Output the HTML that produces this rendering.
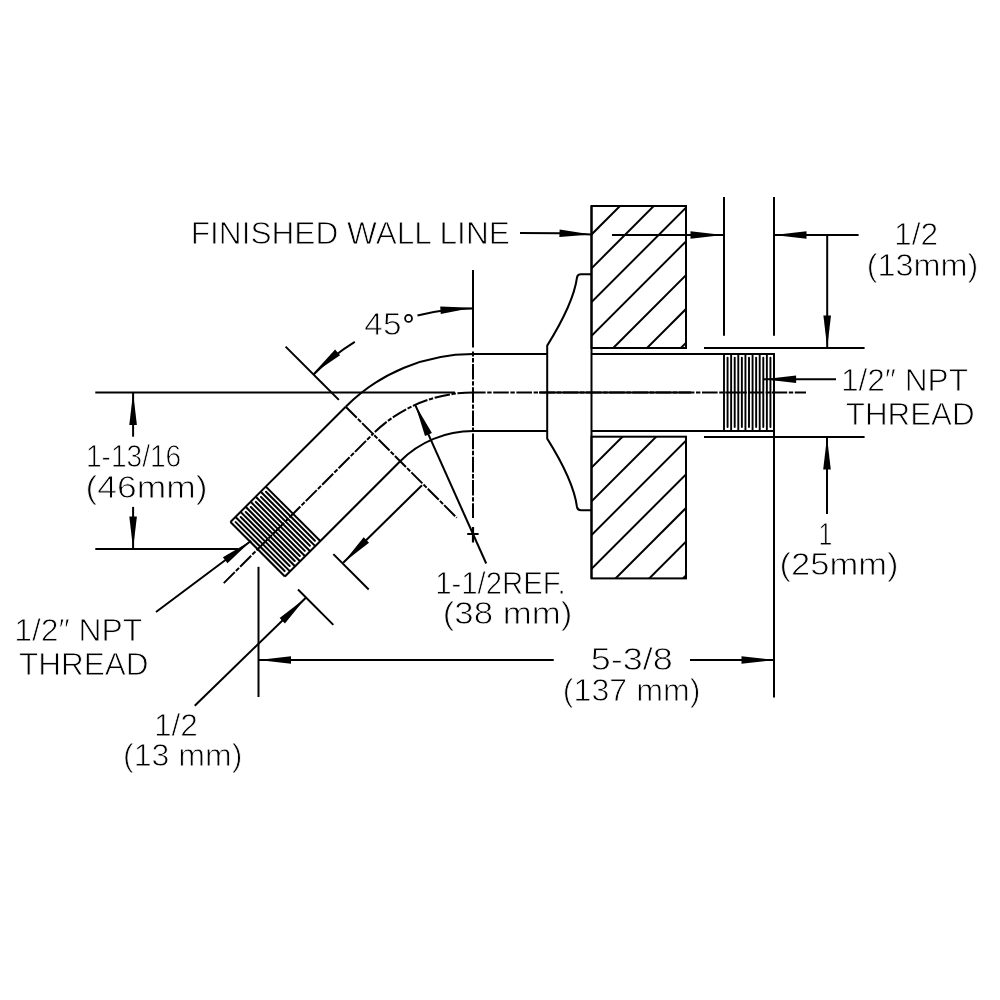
<!DOCTYPE html>
<html><head><meta charset="utf-8"><style>
html,body{margin:0;padding:0;background:#fff;overflow:hidden;}
svg{display:block;}
#wrap{width:1000px;height:1000px;will-change:transform;}
text{font-family:"Liberation Sans",sans-serif;fill:#000;stroke:#fff;stroke-width:0.8px;}
</style></head><body><div id="wrap">
<svg width="1000" height="1000" viewBox="0 0 1000 1000" stroke="#000" stroke-linecap="butt">
<defs><clipPath id="cu"><rect x="591.5" y="206.0" width="94.5" height="142.0"/></clipPath><clipPath id="cl"><rect x="591.5" y="436.7" width="94.5" height="141.7"/></clipPath></defs>
<rect x="591.5" y="206.0" width="94.5" height="142.0" fill="none" stroke-width="2.0"/>
<rect x="591.5" y="436.7" width="94.5" height="141.7" fill="none" stroke-width="2.0"/>
<line x1="591.50" y1="206.00" x2="591.50" y2="578.40" stroke-width="2.0" />
<g clip-path="url(#cu)">
<line x1="426.00" y1="400.00" x2="676.00" y2="150.00" stroke-width="2.0" />
<line x1="459.80" y1="400.00" x2="709.80" y2="150.00" stroke-width="2.0" />
<line x1="493.60" y1="400.00" x2="743.60" y2="150.00" stroke-width="2.0" />
<line x1="527.40" y1="400.00" x2="777.40" y2="150.00" stroke-width="2.0" />
<line x1="561.20" y1="400.00" x2="811.20" y2="150.00" stroke-width="2.0" />
<line x1="595.00" y1="400.00" x2="845.00" y2="150.00" stroke-width="2.0" />
<line x1="628.80" y1="400.00" x2="878.80" y2="150.00" stroke-width="2.0" />
</g><g clip-path="url(#cl)">
<line x1="409.20" y1="650.00" x2="679.20" y2="380.00" stroke-width="2.0" />
<line x1="442.90" y1="650.00" x2="712.90" y2="380.00" stroke-width="2.0" />
<line x1="476.60" y1="650.00" x2="746.60" y2="380.00" stroke-width="2.0" />
<line x1="510.30" y1="650.00" x2="780.30" y2="380.00" stroke-width="2.0" />
<line x1="544.00" y1="650.00" x2="814.00" y2="380.00" stroke-width="2.0" />
<line x1="577.70" y1="650.00" x2="847.70" y2="380.00" stroke-width="2.0" />
<line x1="611.40" y1="650.00" x2="881.40" y2="380.00" stroke-width="2.0" />
</g>
<path d="M591.5,274.2 L581,274.2 Q577.5,274.2 577,277.5 C574,300 560,325 547.2,345.6 L547.2,438.6 C560,459 574,484 577,507 Q577.5,510.2 581,510.2 L591.5,510.2" stroke-width="2.0" fill="none" />
<line x1="473.00" y1="354.00" x2="547.20" y2="354.00" stroke-width="2.0" />
<line x1="473.00" y1="431.00" x2="547.20" y2="431.00" stroke-width="2.0" />
<line x1="591.50" y1="354.00" x2="775.00" y2="354.00" stroke-width="2.0" />
<line x1="591.50" y1="431.00" x2="775.00" y2="431.00" stroke-width="2.0" />
<line x1="774.00" y1="353.00" x2="774.00" y2="431.00" stroke-width="2.0" />
<line x1="724.00" y1="354.00" x2="724.00" y2="431.00" stroke-width="1.9" />
<line x1="731.14" y1="354.00" x2="731.14" y2="431.00" stroke-width="1.9" />
<line x1="738.29" y1="354.00" x2="738.29" y2="431.00" stroke-width="1.9" />
<line x1="745.43" y1="354.00" x2="745.43" y2="431.00" stroke-width="1.9" />
<line x1="752.57" y1="354.00" x2="752.57" y2="431.00" stroke-width="1.9" />
<line x1="759.71" y1="354.00" x2="759.71" y2="431.00" stroke-width="1.9" />
<line x1="766.86" y1="354.00" x2="766.86" y2="431.00" stroke-width="1.9" />
<line x1="774.00" y1="354.00" x2="774.00" y2="431.00" stroke-width="1.9" />
<line x1="727.57" y1="357.80" x2="727.57" y2="427.00" stroke-width="1.9" stroke-linecap="round"/>
<line x1="734.71" y1="357.80" x2="734.71" y2="427.00" stroke-width="1.9" stroke-linecap="round"/>
<line x1="741.86" y1="357.80" x2="741.86" y2="427.00" stroke-width="1.9" stroke-linecap="round"/>
<line x1="749.00" y1="357.80" x2="749.00" y2="427.00" stroke-width="1.9" stroke-linecap="round"/>
<line x1="756.14" y1="357.80" x2="756.14" y2="427.00" stroke-width="1.9" stroke-linecap="round"/>
<line x1="763.29" y1="357.80" x2="763.29" y2="427.00" stroke-width="1.9" stroke-linecap="round"/>
<line x1="770.43" y1="357.80" x2="770.43" y2="427.00" stroke-width="1.9" stroke-linecap="round"/>
<line x1="473.00" y1="392.50" x2="806.00" y2="392.50" stroke-width="2.0" stroke-dasharray="15.6 1.6 4.4 1.6" stroke-dashoffset="3"/>
<line x1="539.00" y1="392.50" x2="691.00" y2="392.50" stroke-width="2.0" />
<path d="M473,354.0 A180.0,180.0 0 0 0 345.72,406.72" stroke-width="2.0" fill="none" />
<path d="M473,431.0 A103.0,103.0 0 0 0 400.17,461.17" stroke-width="2.0" fill="none" />
<path d="M473,392.5 A141.5,141.5 0 0 0 372.94,433.94" stroke-width="2.0" fill="none" stroke-dasharray="15.6 1.6 4.4 1.6"/>
<line x1="473.00" y1="270.00" x2="473.00" y2="347.60" stroke-width="2.0" />
<line x1="473.00" y1="351.50" x2="473.00" y2="518.00" stroke-width="2.0" stroke-dasharray="15.6 1.6 4.4 1.6" stroke-dashoffset="10.7"/>
<line x1="467.20" y1="534.00" x2="478.60" y2="534.00" stroke-width="2.0" />
<line x1="473.00" y1="527.00" x2="473.00" y2="542.50" stroke-width="2.2" />
<g transform="rotate(-45 473.0 534.0)">
<line x1="310.00" y1="354.00" x2="473.00" y2="354.00" stroke-width="2.0" />
<line x1="310.00" y1="431.00" x2="473.00" y2="431.00" stroke-width="2.0" />
<line x1="310.00" y1="354.00" x2="310.00" y2="431.00" stroke-width="2.05" />
<line x1="317.14" y1="354.00" x2="317.14" y2="431.00" stroke-width="2.05" />
<line x1="324.29" y1="354.00" x2="324.29" y2="431.00" stroke-width="2.05" />
<line x1="331.43" y1="354.00" x2="331.43" y2="431.00" stroke-width="2.05" />
<line x1="338.57" y1="354.00" x2="338.57" y2="431.00" stroke-width="2.05" />
<line x1="345.71" y1="354.00" x2="345.71" y2="431.00" stroke-width="2.05" />
<line x1="352.86" y1="354.00" x2="352.86" y2="431.00" stroke-width="2.05" />
<line x1="360.00" y1="354.00" x2="360.00" y2="431.00" stroke-width="2.05" />
<line x1="313.57" y1="357.80" x2="313.57" y2="427.00" stroke-width="2.05" stroke-linecap="round"/>
<line x1="320.71" y1="357.80" x2="320.71" y2="427.00" stroke-width="2.05" stroke-linecap="round"/>
<line x1="327.86" y1="357.80" x2="327.86" y2="427.00" stroke-width="2.05" stroke-linecap="round"/>
<line x1="335.00" y1="357.80" x2="335.00" y2="427.00" stroke-width="2.05" stroke-linecap="round"/>
<line x1="342.14" y1="357.80" x2="342.14" y2="427.00" stroke-width="2.05" stroke-linecap="round"/>
<line x1="349.29" y1="357.80" x2="349.29" y2="427.00" stroke-width="2.05" stroke-linecap="round"/>
<line x1="356.43" y1="357.80" x2="356.43" y2="427.00" stroke-width="2.05" stroke-linecap="round"/>
<line x1="262.00" y1="392.50" x2="473.00" y2="392.50" stroke-width="2.0" stroke-dasharray="15.6 1.6 4.4 1.6"/>
<line x1="473.00" y1="354.00" x2="473.00" y2="511.00" stroke-width="2.0" stroke-dasharray="15.6 1.6 4.4 1.6"/>
<line x1="473.00" y1="269.00" x2="473.00" y2="344.30" stroke-width="2.0" />
<line x1="310.00" y1="449.50" x2="310.00" y2="499.50" stroke-width="2.0" />
<line x1="360.00" y1="449.50" x2="360.00" y2="499.50" stroke-width="2.0" />
</g>
<path d="M520,233 L560,233.3 L591.5,234.4" stroke-width="2.0" fill="none" />
<polygon points="591.50,234.40 559.36,237.00 559.64,229.40" fill="#000" stroke="none"/>
<line x1="612.00" y1="235.00" x2="723.00" y2="235.00" stroke-width="2.0" />
<polygon points="723.00,235.00 690.50,238.80 690.50,231.20" fill="#000" stroke="none"/>
<line x1="724.00" y1="197.00" x2="724.00" y2="335.70" stroke-width="2.0" />
<line x1="774.00" y1="197.00" x2="774.00" y2="335.70" stroke-width="2.0" />
<line x1="774.00" y1="235.00" x2="858.60" y2="235.00" stroke-width="2.0" />
<polygon points="774.00,235.00 806.50,231.20 806.50,238.80" fill="#000" stroke="none"/>
<line x1="827.20" y1="235.00" x2="827.20" y2="348.00" stroke-width="2.0" />
<polygon points="827.20,348.00 823.40,315.50 831.00,315.50" fill="#000" stroke="none"/>
<line x1="704.00" y1="348.00" x2="864.60" y2="348.00" stroke-width="2.0" />
<line x1="704.00" y1="437.00" x2="864.60" y2="437.00" stroke-width="2.0" />
<line x1="763.60" y1="379.30" x2="836.00" y2="379.30" stroke-width="2.0" />
<polygon points="763.60,379.30 796.10,375.50 796.10,383.10" fill="#000" stroke="none"/>
<line x1="827.00" y1="437.00" x2="827.00" y2="514.00" stroke-width="2.0" />
<polygon points="827.00,437.00 830.80,469.50 823.20,469.50" fill="#000" stroke="none"/>
<line x1="774.00" y1="431.00" x2="774.00" y2="697.50" stroke-width="2.0" />
<line x1="258.50" y1="566.80" x2="258.50" y2="697.00" stroke-width="2.0" />
<line x1="258.50" y1="660.00" x2="553.75" y2="660.00" stroke-width="2.0" />
<polygon points="258.50,660.00 291.00,656.20 291.00,663.80" fill="#000" stroke="none"/>
<line x1="690.00" y1="660.00" x2="774.00" y2="660.00" stroke-width="2.0" />
<polygon points="774.00,660.00 741.50,663.80 741.50,656.20" fill="#000" stroke="none"/>
<line x1="95.30" y1="392.60" x2="455.00" y2="392.60" stroke-width="2.0" />
<line x1="95.30" y1="549.00" x2="238.00" y2="549.00" stroke-width="2.0" />
<line x1="133.10" y1="392.60" x2="133.10" y2="436.70" stroke-width="2.0" />
<polygon points="133.10,392.60 136.90,425.10 129.30,425.10" fill="#000" stroke="none"/>
<line x1="133.10" y1="506.90" x2="133.10" y2="549.00" stroke-width="2.0" />
<polygon points="133.10,549.00 129.30,516.50 136.90,516.50" fill="#000" stroke="none"/>
<path d="M473.00,308.50 A225.5,225.5 0 0 0 417.49,315.44" stroke-width="2.0" fill="none" />
<path d="M354.79,341.96 A225.5,225.5 0 0 0 313.55,374.55" stroke-width="2.0" fill="none" />
<polygon points="472.60,307.80 440.78,313.99 440.22,306.41" fill="#000" stroke="none"/>
<polygon points="313.20,373.60 335.11,349.53 340.09,355.27" fill="#000" stroke="none"/>
<line x1="415.20" y1="404.80" x2="486.20" y2="563.50" stroke-width="2.0" />
<polygon points="415.20,404.80 431.94,432.91 425.00,436.02" fill="#000" stroke="none"/>
<line x1="156.00" y1="612.00" x2="251.20" y2="540.80" stroke-width="2.0" />
<polygon points="251.20,540.80 227.45,563.31 222.90,557.22" fill="#000" stroke="none"/>
<line x1="343.20" y1="562.80" x2="422.00" y2="485.20" stroke-width="2.0" />
<polygon points="343.20,562.80 363.69,537.29 369.02,542.70" fill="#000" stroke="none"/>
<line x1="305.60" y1="598.00" x2="194.75" y2="705.75" stroke-width="2.0" />
<polygon points="305.60,598.00 284.94,623.38 279.65,617.93" fill="#000" stroke="none"/>
<text x="190.74" y="243.52" font-size="31.0" textLength="319.08" lengthAdjust="spacingAndGlyphs">FINISHED WALL LINE</text>
<text x="893.99" y="245.42" font-size="31.0" textLength="44.12" lengthAdjust="spacingAndGlyphs">1/2</text>
<text x="866.75" y="276.22" font-size="31.0" textLength="111.64" lengthAdjust="spacingAndGlyphs">(13mm)</text>
<text x="840.95" y="391.42" font-size="31.0" textLength="127.06" lengthAdjust="spacingAndGlyphs">1/2&#8243; NPT</text>
<text x="845.79" y="425.42" font-size="31.0" textLength="128.89" lengthAdjust="spacingAndGlyphs">THREAD</text>
<text x="818.45" y="545.42" font-size="31.0" textLength="13.80" lengthAdjust="spacingAndGlyphs">1</text>
<text x="779.49" y="575.42" font-size="31.0" textLength="118.95" lengthAdjust="spacingAndGlyphs">(25mm)</text>
<text x="364.35" y="335.32" font-size="31.0" textLength="37.11" lengthAdjust="spacingAndGlyphs">45</text>
<text x="85.96" y="467.32" font-size="31.0" textLength="95.25" lengthAdjust="spacingAndGlyphs">1-13/16</text>
<text x="85.53" y="497.52" font-size="31.0" textLength="121.98" lengthAdjust="spacingAndGlyphs">(46mm)</text>
<text x="14.18" y="641.42" font-size="31.0" textLength="128.04" lengthAdjust="spacingAndGlyphs">1/2&#8243; NPT</text>
<text x="18.98" y="675.22" font-size="31.0" textLength="129.60" lengthAdjust="spacingAndGlyphs">THREAD</text>
<text x="435.20" y="594.22" font-size="31.0" textLength="130.47" lengthAdjust="spacingAndGlyphs">1-1/2REF.</text>
<text x="442.77" y="624.42" font-size="31.0" textLength="129.61" lengthAdjust="spacingAndGlyphs">(38 mm)</text>
<text x="590.77" y="670.02" font-size="31.0" textLength="82.07" lengthAdjust="spacingAndGlyphs">5-3/8</text>
<text x="562.87" y="701.22" font-size="31.0" textLength="137.61" lengthAdjust="spacingAndGlyphs">(137 mm)</text>
<text x="154.00" y="736.22" font-size="31.0" textLength="43.89" lengthAdjust="spacingAndGlyphs">1/2</text>
<text x="122.97" y="766.22" font-size="31.0" textLength="119.40" lengthAdjust="spacingAndGlyphs">(13 mm)</text>
<circle cx="408.55" cy="318.4" r="3.45" fill="none" stroke-width="1.8"/>
</svg></div></body></html>
